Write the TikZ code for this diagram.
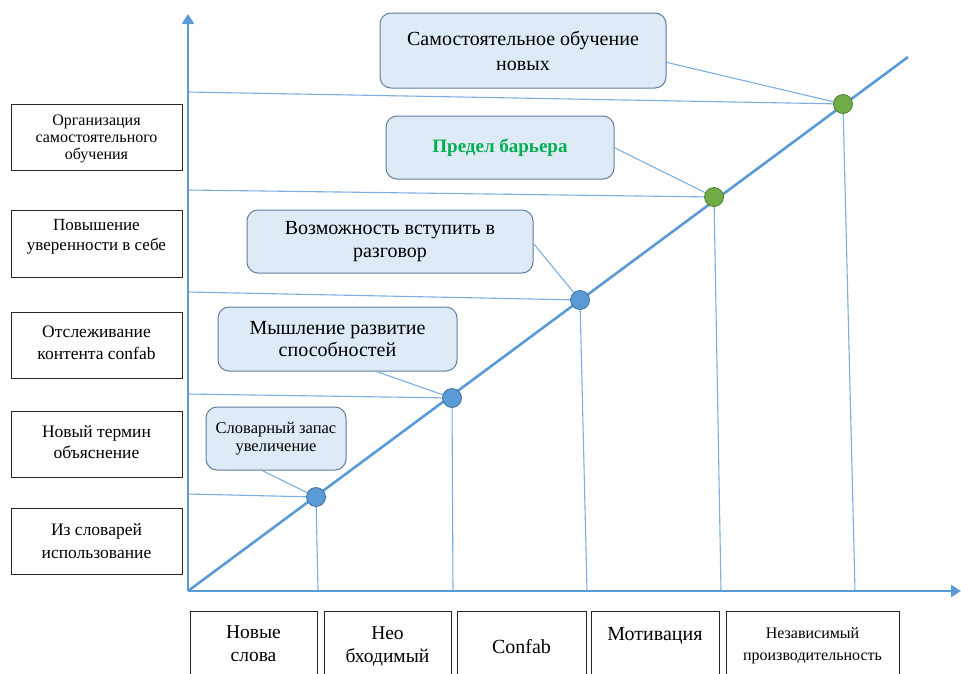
\documentclass[tikz,border=0pt]{standalone}
\usepackage{fontspec}
\setmainfont{Liberation Serif}
\usetikzlibrary{arrows.meta}
\definecolor{axisblue}{RGB}{91,155,213}
\definecolor{thinblue}{RGB}{125,174,224}
\definecolor{callfill}{RGB}{222,234,246}
\definecolor{callborder}{RGB}{98,126,158}
\definecolor{dotblue}{RGB}{91,155,213}
\definecolor{dotblueb}{RGB}{65,113,156}
\definecolor{dotgreen}{RGB}{112,173,71}
\definecolor{dotgreenb}{RGB}{80,126,50}
\definecolor{textgreen}{RGB}{0,176,80}
\begin{document}
\begin{tikzpicture}[x=1pt,y=-1pt,
  thin line/.style={draw=thinblue, line width=1.1pt},
  axisline/.style={draw=axisblue, line width=2.6pt},
  callout/.style={draw=callborder, fill=callfill, rounded corners=11pt, line width=1pt, align=center, inner sep=0pt, text=black},
  lbox/.style={draw=black!85, line width=1pt, inner sep=0pt},
  ltext/.style={align=center, inner sep=0pt, text=black},
  dotb/.style={circle, fill=dotblue, draw=dotblueb, line width=0.8pt, minimum size=19pt, inner sep=0pt},
  dotg/.style={circle, fill=dotgreen, draw=dotgreenb, line width=0.8pt, minimum size=19pt, inner sep=0pt}]
\useasboundingbox (0,0) rectangle (961,673);
\clip (0,0) rectangle (961,673);

% origin and axis ends
\coordinate (o) at (188,591);
\coordinate (ytop) at (188,14);
\coordinate (xend) at (961,591);
\coordinate (dend) at (908,57);

% dot positions
\coordinate (p1) at (316,497);
\coordinate (p2) at (452,398);
\coordinate (p3) at (580,300);
\coordinate (p4) at (714,197);
\coordinate (p5) at (843,104);

% horizontal line starts on the y axis
\coordinate (h1) at (188,494);
\coordinate (h2) at (188,394);
\coordinate (h3) at (188,292);
\coordinate (h4) at (188,190);
\coordinate (h5) at (188,92);
% vertical line ends on the x axis
\coordinate (v1) at (318,591);
\coordinate (v2) at (453,591);
\coordinate (v3) at (587,591);
\coordinate (v4) at (721,591);
\coordinate (v5) at (855,591);

% thin guide lines
\foreach \i in {1,...,5}{
  \draw[thin line] (h\i) -- (p\i);
  \draw[thin line] (p\i) -- (v\i);
}

% callouts
\node[callout, minimum width=286pt, minimum height=75pt, font=\fontsize{20}{25}\selectfont] (c5) at (523,50.5) {Самостоятельное обучение\\новых};
\node[callout, minimum width=228pt, minimum height=63pt, font=\fontsize{19}{21}\selectfont\bfseries, text=textgreen] (c4) at (500,147.5) {Предел барьера};
\node[callout, minimum width=286pt, minimum height=63pt, font=\fontsize{20}{23}\selectfont] (c3) at (390,241.5) {Возможность вступить в\\разговор};
\node[callout, minimum width=239pt, minimum height=64pt, font=\fontsize{20}{22}\selectfont] (c2) at (337.5,339) {Мышление развитие\\способностей};
\node[callout, minimum width=140pt, minimum height=63pt, font=\fontsize{16.5}{18}\selectfont] (c1) at (276,438.5) {Словарный запас\\увеличение};

% callout pointer starts
\coordinate (k5) at (665,62);
\coordinate (k4) at (615,148);
\coordinate (k3) at (533,243);
\coordinate (k2) at (375,371);
\coordinate (k1) at (261,470);
\foreach \i in {1,...,5}{
  \draw[thin line] (k\i) -- (p\i);
}

% axes and diagonal
\draw[axisline] (o) -- (dend);
\draw[axisline, -{Triangle[width=12pt,length=10pt]}] (o) -- (ytop);
\draw[axisline, -{Triangle[width=12pt,length=10pt]}] (o) -- (xend);

% dots
\node[dotb] (d1) at (p1) {};
\node[dotb] (d2) at (p2) {};
\node[dotb] (d3) at (p3) {};
\node[dotg] (d4) at (p4) {};
\node[dotg] (d5) at (p5) {};

% left boxes
\node[lbox, minimum width=171pt, minimum height=66pt] (l5) at (96.5,137) {};
\node[ltext, font=\fontsize{16}{17}\selectfont] (t5) at (96.5,139) {Организация\\самостоятельного\\обучения};
\node[lbox, minimum width=171pt, minimum height=67pt] (l4) at (96.5,243.5) {};
\node[ltext, font=\fontsize{17}{20}\selectfont] (t4) at (96.5,237) {Повышение\\уверенности в себе};
\node[lbox, minimum width=171pt, minimum height=66pt] (l3) at (96.5,345) {};
\node[ltext, font=\fontsize{17.5}{22}\selectfont] (t3) at (96.5,343) {Отслеживание\\контента confab};
\node[lbox, minimum width=171pt, minimum height=66pt] (l2) at (96.5,444) {};
\node[ltext, font=\fontsize{17.5}{21}\selectfont] (t2) at (96.5,442) {Новый термин\\объяснение};
\node[lbox, minimum width=171pt, minimum height=66pt] (l1) at (96.5,541) {};
\node[ltext, font=\fontsize{17.5}{23}\selectfont] (t1) at (96.5,541) {Из словарей\\использование};

% bottom boxes
\node[lbox, minimum width=127pt, minimum height=80pt] (b1) at (253.5,651) {};
\node[ltext, font=\fontsize{19.5}{23}\selectfont] (s1) at (253.5,644) {Новые\\слова};
\node[lbox, minimum width=127pt, minimum height=80pt] (b2) at (387.5,651) {};
\node[ltext, font=\fontsize{19.5}{23}\selectfont] (s2) at (387.5,646) {Нео\\бходимый};
\node[lbox, minimum width=129pt, minimum height=80pt] (b3) at (521.5,651) {};
\node[ltext, font=\fontsize{20}{23}\selectfont] (s3) at (521.5,647) {Confab};
\node[lbox, minimum width=128pt, minimum height=80pt] (b4) at (655,651) {};
\node[ltext, font=\fontsize{20}{23}\selectfont] (s4) at (655,636) {Мотивация};
\node[lbox, minimum width=173pt, minimum height=80pt] (b5) at (812.5,651) {};
\node[ltext, font=\fontsize{16}{22}\selectfont] (s5) at (812.5,646) {Независимый\\производительность};
\end{tikzpicture}
\end{document}
